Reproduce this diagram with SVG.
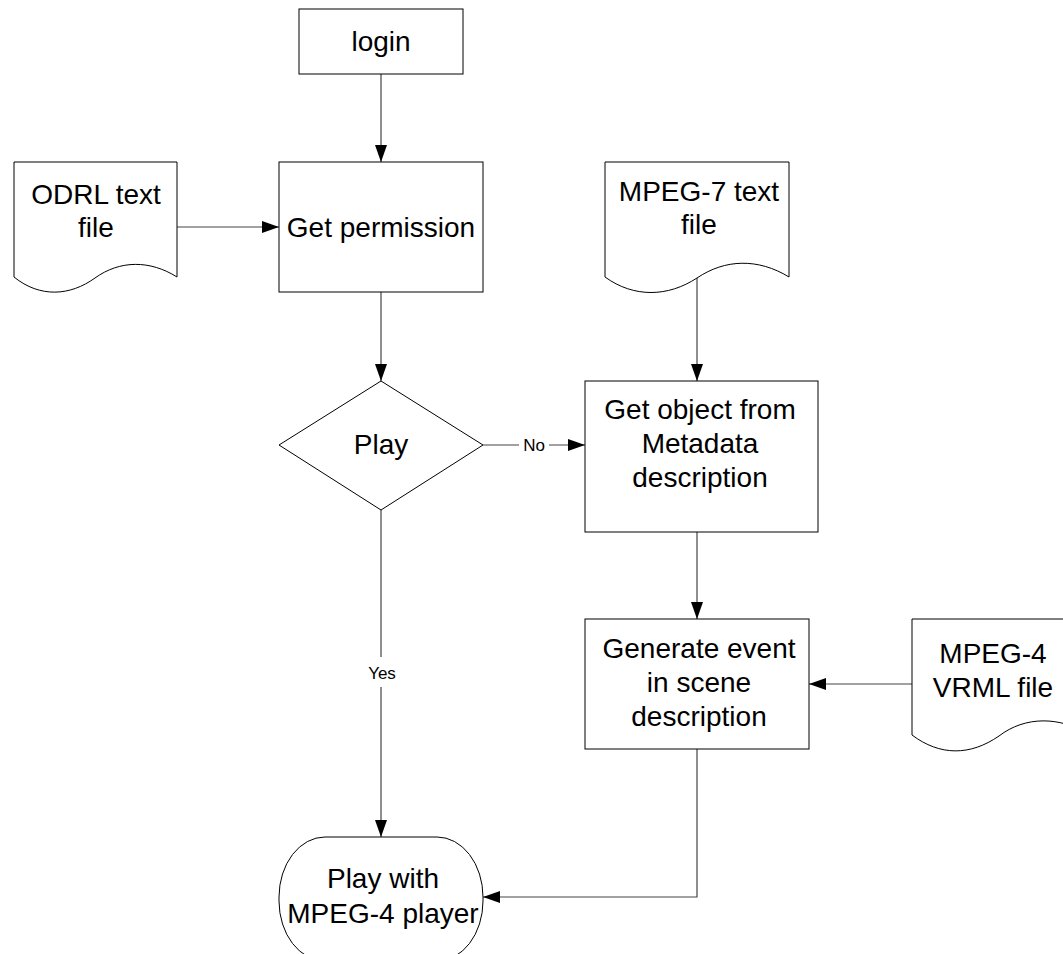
<svg xmlns="http://www.w3.org/2000/svg" width="1063" height="954" viewBox="0 0 1063 954">
<style>
.shape{fill:#fff;stroke:#000;stroke-width:1}
.conn{fill:none;stroke:#444;stroke-width:1.2}
.t{font-family:"Liberation Sans",Arial,sans-serif;font-size:28px;fill:#000;text-anchor:middle}
.lbl{font-family:"Liberation Sans",Arial,sans-serif;font-size:17px;fill:#000;text-anchor:middle}
</style>
<defs>
<marker id="ah" markerUnits="userSpaceOnUse" markerWidth="17" markerHeight="12" refX="17" refY="6" orient="auto">
<path d="M0,0 L17,6 L0,12 z" fill="#000"/>
</marker>
</defs>
<rect width="1063" height="954" fill="#fff"/>
<g id="connectors">
<path class="conn" d="M381,74 L381,162" marker-end="url(#ah)"/>
<path class="conn" d="M177,227 L279,227" marker-end="url(#ah)"/>
<path class="conn" d="M381,292 L381,381" marker-end="url(#ah)"/>
<path class="conn" d="M483,445 L519,445"/>
<path class="conn" d="M549,445 L585,445" marker-end="url(#ah)"/>
<path class="conn" d="M697,277 L697,381" marker-end="url(#ah)"/>
<path class="conn" d="M697,532 L697,619" marker-end="url(#ah)"/>
<path class="conn" d="M912,684 L809,684" marker-end="url(#ah)"/>
<path class="conn" d="M381,510 L381,657"/>
<path class="conn" d="M381,687 L381,837" marker-end="url(#ah)"/>
<path class="conn" d="M697,749 L697,897 L483,897" marker-end="url(#ah)"/>
<text class="lbl" x="534" y="451">No</text>
<text class="lbl" x="382" y="679">Yes</text>
</g>
<g id="login">
<rect class="shape" x="299" y="9" width="164" height="65"/>
<text class="t" x="381" y="51">login</text>
</g>
<g id="odrl">
<path class="shape" d="M14,162 L177,162 L177,277 C150,260 120,260 95,278 C70,296 40,298 14,277 Z"/>
<text class="t" x="96" y="204">ODRL text</text>
<text class="t" x="96" y="237">file</text>
</g>
<g id="permission">
<rect class="shape" x="279" y="162" width="204" height="130"/>
<text class="t" x="381" y="237">Get permission</text>
</g>
<g id="mpeg7">
<path class="shape" d="M605,162 L789,162 L789,277 C758,258 725,259 697,278 C668,297 634,298 605,277 Z"/>
<text class="t" x="699" y="201">MPEG-7 text</text>
<text class="t" x="699" y="234">file</text>
</g>
<g id="play">
<path class="shape" d="M381,381 L483,445 L381,510 L279,445 Z"/>
<text class="t" x="381" y="454">Play</text>
</g>
<g id="getobject">
<rect class="shape" x="585" y="381" width="233" height="151"/>
<text class="t" x="700" y="419">Get object from</text>
<text class="t" x="700" y="453">Metadata</text>
<text class="t" x="700" y="487">description</text>
</g>
<g id="generate">
<rect class="shape" x="585" y="619" width="224" height="130"/>
<text class="t" x="699" y="658">Generate event</text>
<text class="t" x="699" y="692">in scene</text>
<text class="t" x="699" y="726">description</text>
</g>
<g id="mpeg4">
<path class="shape" d="M912,619 L1090,619 L1090,735 C1060,716 1025,716 999,736 C970,756 940,756 912,735 Z"/>
<text class="t" x="993" y="663">MPEG-4</text>
<text class="t" x="993" y="697">VRML file</text>
</g>
<g id="player">
<rect class="shape" x="279" y="837" width="204" height="124" rx="46" ry="60"/>
<text class="t" x="383" y="888">Play with</text>
<text class="t" x="383" y="923">MPEG-4 player</text>
</g>
</svg>
